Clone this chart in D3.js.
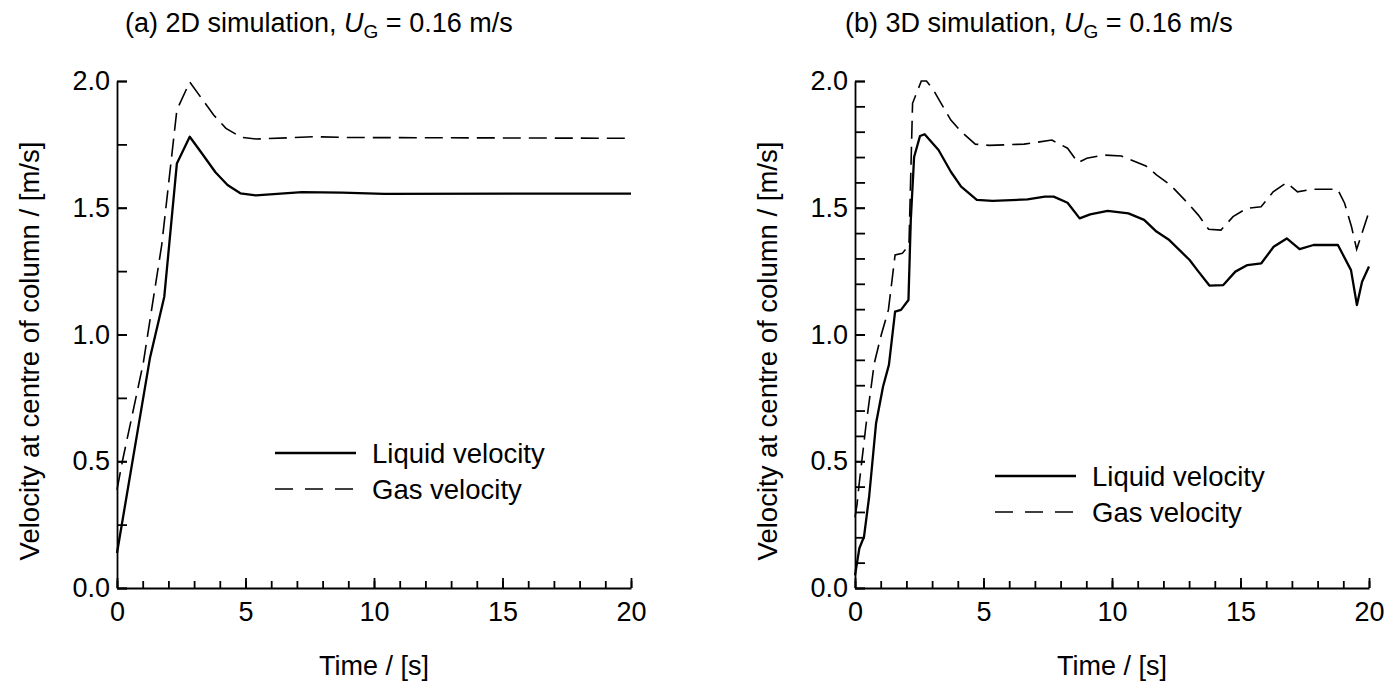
<!DOCTYPE html>
<html>
<head>
<meta charset="utf-8">
<script src="https://cdn.jsdelivr.net/npm/d3@7"></script>
<style>
  body { margin: 0; background: #fff; }
  text { font-family: "Liberation Sans", Arial, Helvetica, sans-serif; fill: #000; }
</style>
</head>
<body>
<svg id="chart" width="1386" height="688"></svg>
<script>
// values
var panelTitles = ['(a) 2D simulation, ', '(b) 3D simulation, '];
var seriesNames = ['Liquid velocity', 'Gas velocity'];
var xTickLabels = [0, 5, 10, 15, 20];
var yTickLabels = [0, 0.5, 1.0, 1.5, 2.0];

// (a) 2D
var time2dLiquid = [0, 1.28, 1.84, 2.33, 2.83, 3.3, 3.83, 4.3, 4.8, 5.4, 7.2, 8.75, 10.4, 20];
var vel2dLiquid  = [0.138, 0.906, 1.149, 1.675, 1.78, 1.715, 1.64, 1.59, 1.557, 1.549, 1.562, 1.56, 1.555, 1.556];
var time2dGas = [0, 0.22, 1.02, 1.74, 2.33, 2.83, 3.76, 4.24, 4.84, 5.42, 7.65, 9.03, 20];
var vel2dGas  = [0.387, 0.505, 0.886, 1.353, 1.886, 1.996, 1.866, 1.813, 1.778, 1.771, 1.78, 1.777, 1.774];

// (b) 3D
var time3dLiquid = [0, 0.17, 0.35, 0.55, 0.82, 1.09, 1.32, 1.56, 1.79, 2.08, 2.17, 2.3, 2.53, 2.71,
  3.25, 3.73, 4.13, 4.74, 5.35, 6.71, 7.39, 7.73, 8.27, 8.74, 9.15, 9.83, 10.64, 11.25, 11.73,
  12.2, 13.02, 13.35, 13.79, 14.33, 14.8, 15.27, 15.81, 16.29, 16.8, 17.3, 17.84, 18.79, 19.3,
  19.53, 19.73, 20];
var vel3dLiquid = [0.05, 0.157, 0.202, 0.36, 0.65, 0.794, 0.88, 1.09, 1.097, 1.136, 1.45, 1.70, 1.783, 1.79,
  1.728, 1.642, 1.583, 1.531, 1.527, 1.533, 1.544, 1.544, 1.52, 1.458, 1.474, 1.488, 1.478, 1.452, 1.406,
  1.375, 1.294, 1.25, 1.193, 1.195, 1.248, 1.274, 1.281, 1.346, 1.379, 1.337, 1.353, 1.353, 1.254,
  1.116, 1.208, 1.268];
var time3dGas = [0, 0.08, 0.15, 0.42, 0.75, 1.02, 1.3, 1.56, 1.84, 2.1, 2.24, 2.58, 2.78, 3.05, 3.39,
  3.73, 4.13, 4.68, 5.22, 6.58, 7.66, 8.27, 8.68, 9.02, 9.69, 10.37, 11.32, 11.73, 12.27, 12.95,
  13.36, 13.76, 14.24, 14.71, 15.25, 15.8, 16.27, 16.79, 17.22, 17.83, 18.78, 19.05, 19.32, 19.52, 20];
var vel3dGas = [0.28, 0.33, 0.40, 0.636, 0.886, 0.998, 1.097, 1.314, 1.32, 1.353, 1.912, 2.0, 2.0, 1.965, 1.905,
  1.846, 1.80, 1.751, 1.746, 1.751, 1.767, 1.735, 1.678, 1.695, 1.708, 1.704, 1.665, 1.63, 1.59, 1.518,
  1.471, 1.415, 1.412, 1.465, 1.498, 1.504, 1.563, 1.599, 1.563, 1.573, 1.573, 1.518, 1.425, 1.336, 1.484];

var svg = d3.select('#chart');
var plotW = 514, plotH = 507, plotTop = 81;

function zip(ts, vs) {
	return ts.map(function(t, i) { return [t, vs[i]]; });
}

function drawPanel(left, title, liquid, gas, yStep, opt) {
	var g = svg.append('g').attr('transform', 'translate(' + left + ',' + plotTop + ')');
	var x = d3.scaleLinear().domain([0, 20]).range([0, plotW]);
	var y = d3.scaleLinear().domain([0, 2]).range([plotH, 0]);

	// x axis: minor ticks every second, longer ticks every 5 s
	g.append('g').attr('class', 'axis').attr('transform', 'translate(0,' + plotH + ')')
		.call(d3.axisBottom(x).tickValues(d3.range(0, 21, 1)).tickSize(-7).tickSizeOuter(0).tickFormat(''))
		.call(function(a) { a.select('.domain').remove(); });
	g.append('g').attr('class', 'axis').attr('transform', 'translate(0,' + plotH + ')')
		.call(d3.axisBottom(x).tickValues(xTickLabels).tickSize(-10).tickSizeOuter(0).tickPadding(14).tickFormat(d3.format('d')));

	// y axis
	var yMinor = d3.range(0, 2 + 1e-6, yStep);
	g.append('g').attr('class', 'axis')
		.call(d3.axisLeft(y).tickValues(yMinor).tickSize(-10).tickSizeOuter(0).tickFormat(''))
		.call(function(a) { a.select('.domain').remove(); });
	g.append('g').attr('class', 'axis')
		.call(d3.axisLeft(y).tickValues(yTickLabels).tickSize(-10).tickSizeOuter(0).tickPadding(7).tickFormat(d3.format('.1f')));

	g.selectAll('.axis path, .axis line').attr('stroke', '#000').attr('stroke-width', 1.8);
	g.selectAll('.axis text').attr('font-size', 27).attr('font-family', '"Liberation Sans", Arial, sans-serif');

	var line = d3.line().x(function(d) { return x(d[0]); }).y(function(d) { return y(d[1]); });

	g.append('path').datum(gas)
		.attr('fill', 'none').attr('stroke', '#000').attr('stroke-width', 1.6)
		.attr('stroke-dasharray', '18,8').attr('d', line);
	g.append('path').datum(liquid)
		.attr('fill', 'none').attr('stroke', '#000').attr('stroke-width', 2.3)
		.attr('stroke-linejoin', 'round').attr('d', line);

	// title with U_G
	var t = svg.append('text').attr('x', opt.titleX).attr('y', 32).attr('font-size', 27);
	t.append('tspan').text(title);
	t.append('tspan').attr('font-style', 'italic').text('U');
	t.append('tspan').attr('font-size', 19).attr('dy', 6).text('G');
	t.append('tspan').attr('dy', -6).text(' = 0.16 m/s');

	// axis titles
	svg.append('text').attr('x', left + plotW / 2).attr('y', plotTop + plotH + 87)
		.attr('text-anchor', 'middle').attr('font-size', 27).text('Time / [s]');
	svg.append('text')
		.attr('transform', 'translate(' + (left - 78) + ',' + (plotTop + 270) + ') rotate(-90)')
		.attr('text-anchor', 'middle').attr('font-size', 27.5)
		.text('Velocity at centre of column / [m/s]');

	// legend
	var lg = svg.append('g').attr('transform', 'translate(' + opt.legX + ',' + opt.legY + ')');
	lg.append('line').attr('x1', 0).attr('x2', 81).attr('y1', 0).attr('y2', 0)
		.attr('stroke', '#000').attr('stroke-width', 2.3);
	lg.append('line').attr('x1', 0).attr('x2', 81).attr('y1', 36).attr('y2', 36)
		.attr('stroke', '#000').attr('stroke-width', 1.6).attr('stroke-dasharray', '18,12');
	lg.append('text').attr('x', 97).attr('y', 10).attr('font-size', 27.5).text(seriesNames[0]);
	lg.append('text').attr('x', 97).attr('y', 46).attr('font-size', 27.5).text(seriesNames[1]);
}

drawPanel(117, panelTitles[0], zip(time2dLiquid, vel2dLiquid), zip(time2dGas, vel2dGas), 0.25,
	{titleX: 125, legX: 275, legY: 453});
drawPanel(855, panelTitles[1], zip(time3dLiquid, vel3dLiquid), zip(time3dGas, vel3dGas), 0.1,
	{titleX: 845, legX: 995, legY: 476});
</script>
</body>
</html>
